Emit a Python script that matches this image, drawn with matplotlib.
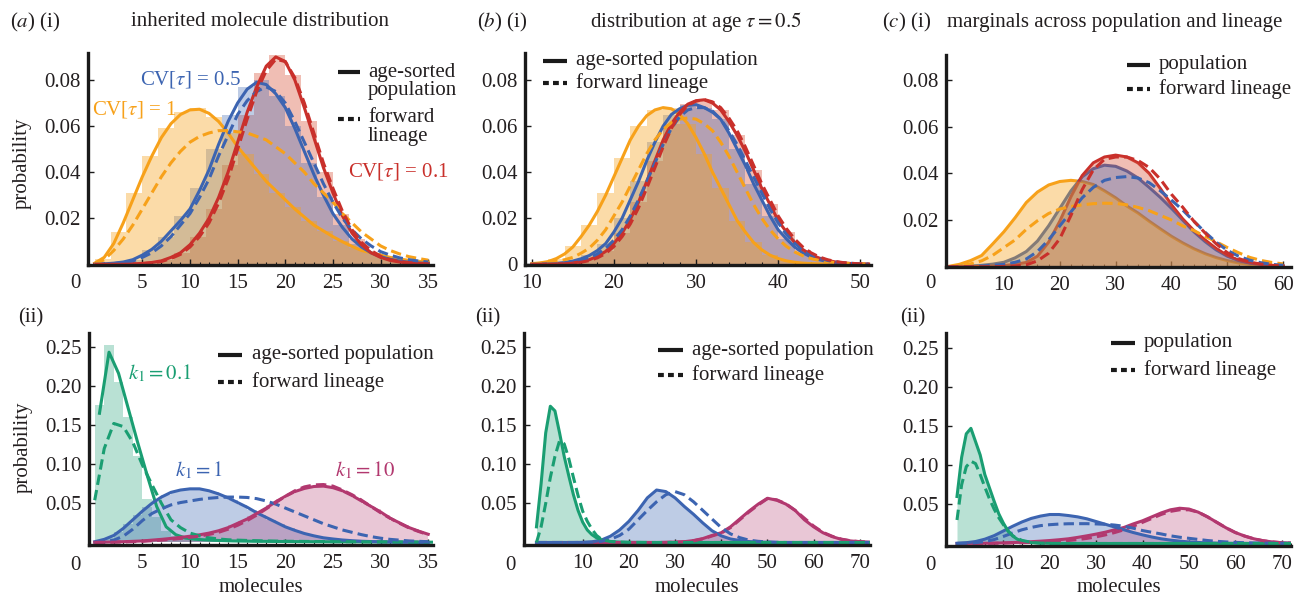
import numpy as np
import matplotlib
matplotlib.use("Agg")
import matplotlib.pyplot as plt
from matplotlib.lines import Line2D

plt.rcParams['font.family'] = ['Liberation Serif', 'DejaVu Serif']
plt.rcParams['mathtext.fontset'] = 'stix'

W, H = 1296, 598
FS = 15
TXT = '#231f20'

# ---------------- data: (a)(i) inherited molecule distribution ----------------
A1_X = list(range(0, 36))
A1_ORANGE_SOLID = [0.0005, 0.003, 0.009, 0.018, 0.028, 0.038, 0.047, 0.055, 0.061, 0.065, 0.067, 0.0673,
                   0.0655, 0.062, 0.057, 0.051, 0.046, 0.041, 0.036, 0.032, 0.028, 0.024, 0.0205, 0.017,
                   0.0145, 0.012, 0.0098, 0.0078, 0.006, 0.005, 0.004, 0.003, 0.0023, 0.0017, 0.0013, 0.001]
A1_ORANGE_DASH = [0.0, 0.002, 0.006, 0.011, 0.017, 0.024, 0.031, 0.038, 0.044, 0.049, 0.053, 0.0555,
                  0.057, 0.058, 0.058, 0.0575, 0.057, 0.0555, 0.054, 0.051, 0.048, 0.044, 0.040, 0.035,
                  0.031, 0.027, 0.022, 0.018, 0.014, 0.011, 0.008, 0.006, 0.0045, 0.0033, 0.0025, 0.0018]
A1_BLUE_SOLID = [0, 0.0002, 0.0005, 0.001, 0.002, 0.004, 0.0065, 0.010, 0.0145, 0.019, 0.024, 0.032,
                 0.041, 0.052, 0.062, 0.070, 0.076, 0.079, 0.078, 0.074, 0.068, 0.059, 0.049, 0.039,
                 0.030, 0.022, 0.016, 0.011, 0.0075, 0.005, 0.0033, 0.0022, 0.0014, 0.0009, 0.0006, 0.0004]
A1_BLUE_DASH = [0, 0.0001, 0.0003, 0.0007, 0.0014, 0.003, 0.005, 0.008, 0.012, 0.017, 0.022, 0.029,
                0.037, 0.047, 0.056, 0.065, 0.071, 0.075, 0.077, 0.075, 0.070, 0.062, 0.053, 0.044,
                0.035, 0.027, 0.020, 0.015, 0.011, 0.008, 0.0055, 0.004, 0.0028, 0.002, 0.0014, 0.001]
A1_RED_SOLID = [0, 0, 0, 0, 0.0002, 0.0004, 0.0008, 0.0015, 0.003, 0.005, 0.0085, 0.0135,
                0.020, 0.029, 0.040, 0.053, 0.066, 0.077, 0.086, 0.090, 0.088, 0.080, 0.068, 0.055,
                0.042, 0.031, 0.021, 0.0135, 0.0085, 0.005, 0.003, 0.0017, 0.001, 0.0005, 0.0003, 0.0002]
A1_RED_DASH = [0, 0, 0, 0, 0.0001, 0.0003, 0.0006, 0.0012, 0.0025, 0.0043, 0.0075, 0.012,
               0.018, 0.0265, 0.037, 0.050, 0.063, 0.075, 0.084, 0.089, 0.088, 0.081, 0.070, 0.057,
               0.044, 0.033, 0.023, 0.015, 0.0095, 0.006, 0.0035, 0.002, 0.0012, 0.0007, 0.0004, 0.0002]
A1_EDGES = np.linspace(0, 35, 22)
A1_ORANGE_HIST = [0.0025, 0.014, 0.031, 0.047, 0.059, 0.066, 0.068, 0.064, 0.057, 0.048, 0.039,
                  0.031, 0.025, 0.019, 0.0145, 0.010, 0.007, 0.005, 0.0033, 0.002, 0.0012]
A1_BLUE_HIST = [0.0001, 0.0007, 0.002, 0.006, 0.012, 0.021, 0.033, 0.050, 0.065, 0.077, 0.080,
                0.073, 0.060, 0.044, 0.029, 0.017, 0.009, 0.0048, 0.0024, 0.0012, 0.0006]
A1_RED_HIST = [0, 0, 0.0002, 0.0007, 0.002, 0.005, 0.012, 0.024, 0.043, 0.065, 0.083,
               0.091, 0.082, 0.062, 0.040, 0.022, 0.011, 0.005, 0.002, 0.0008, 0.0003]

# ---------------- data: (b)(i) distribution at age tau = 0.5 ----------------
B1_X = list(range(10, 52))
B1_ORANGE_SOLID = [0.0003, 0.0006, 0.0012, 0.0025, 0.0045, 0.0075, 0.012, 0.017, 0.023, 0.030,
                   0.038, 0.046, 0.054, 0.060, 0.0645, 0.067, 0.068, 0.0675, 0.065, 0.061,
                   0.055, 0.048, 0.040, 0.033, 0.026, 0.019, 0.014, 0.0095, 0.0063, 0.004,
                   0.0025, 0.0015, 0.0009, 0.0005, 0.0003, 0.0002, 0.0001, 0.0001, 0, 0, 0, 0]
B1_ORANGE_DASH = [0.0002, 0.0004, 0.0008, 0.0013, 0.002, 0.003, 0.0048, 0.007, 0.0105, 0.015,
                  0.021, 0.027, 0.034, 0.041, 0.048, 0.054, 0.0585, 0.0615, 0.063, 0.0635,
                  0.063, 0.061, 0.058, 0.053, 0.047, 0.040, 0.033, 0.026, 0.020, 0.015,
                  0.011, 0.0078, 0.0054, 0.0037, 0.0025, 0.0017, 0.0011, 0.0007, 0.0005, 0.0003, 0.0002, 0.0001]
B1_BLUE_SOLID = [0, 0.0001, 0.0002, 0.0004, 0.0008, 0.0014, 0.0024, 0.0038, 0.006, 0.009,
                 0.014, 0.020, 0.028, 0.036, 0.045, 0.053, 0.060, 0.065, 0.0675, 0.069,
                 0.0693, 0.068, 0.066, 0.063, 0.057, 0.050, 0.043, 0.035, 0.028, 0.021,
                 0.015, 0.011, 0.0075, 0.005, 0.0032, 0.002, 0.0012, 0.0007, 0.0004, 0.0002, 0.0001, 0]
B1_BLUE_DASH = [0, 0, 0.0001, 0.0002, 0.0005, 0.001, 0.0017, 0.0028, 0.0045, 0.007,
                0.0105, 0.015, 0.021, 0.028, 0.036, 0.044, 0.052, 0.059, 0.064, 0.067,
                0.068, 0.068, 0.0665, 0.063, 0.058, 0.052, 0.045, 0.038, 0.031, 0.024,
                0.018, 0.013, 0.0092, 0.0063, 0.0042, 0.0027, 0.0017, 0.001, 0.0006, 0.0004, 0.0002, 0.0001]
B1_RED_SOLID = [0, 0, 0.0001, 0.0002, 0.0003, 0.0006, 0.0011, 0.002, 0.0034, 0.0056,
                0.009, 0.0135, 0.0195, 0.027, 0.036, 0.045, 0.054, 0.061, 0.066, 0.0695,
                0.071, 0.0714, 0.070, 0.067, 0.062, 0.056, 0.049, 0.041, 0.033, 0.026,
                0.019, 0.014, 0.0095, 0.0064, 0.0042, 0.0027, 0.0017, 0.001, 0.0006, 0.0003, 0.0002, 0.0001]
B1_RED_DASH = [0, 0, 0, 0.0001, 0.0002, 0.0005, 0.0009, 0.0016, 0.0028, 0.0047,
               0.0077, 0.012, 0.0175, 0.0245, 0.033, 0.042, 0.051, 0.059, 0.065, 0.069,
               0.0708, 0.0715, 0.0705, 0.068, 0.0635, 0.058, 0.051, 0.043, 0.035, 0.028,
               0.021, 0.0155, 0.011, 0.0075, 0.005, 0.0032, 0.002, 0.0012, 0.0007, 0.0004, 0.0002, 0.0001]
B1_EDGES = np.linspace(10, 52, 22)
B1_ORANGE_HIST = [0.0005, 0.0025, 0.008, 0.017, 0.031, 0.046, 0.060, 0.067, 0.068, 0.061, 0.048,
                  0.033, 0.019, 0.0095, 0.004, 0.0015, 0.0005, 0.0002, 0.0001, 0, 0]
B1_BLUE_HIST = [0, 0.0003, 0.0014, 0.004, 0.009, 0.020, 0.036, 0.053, 0.065, 0.069, 0.068,
                0.063, 0.050, 0.035, 0.021, 0.011, 0.005, 0.002, 0.0007, 0.0002, 0]
B1_RED_HIST = [0, 0.0001, 0.0006, 0.002, 0.0056, 0.0135, 0.027, 0.045, 0.061, 0.0695, 0.0714,
               0.067, 0.056, 0.041, 0.026, 0.014, 0.0064, 0.0027, 0.001, 0.0003, 0.0001]

# ---------------- data: (c)(i) marginals ----------------
C1_X = list(range(0, 61, 2))
C1_ORANGE_SOLID = [0.0001, 0.001, 0.0026, 0.0048, 0.0098, 0.015, 0.021, 0.0275, 0.032, 0.035, 0.0365,
                   0.037, 0.0365, 0.0352, 0.0325, 0.0295, 0.026, 0.023, 0.0195, 0.0162, 0.013,
                   0.0102, 0.0077, 0.0056, 0.0039, 0.0026, 0.0016, 0.001, 0.0006, 0.0004, 0.0002]
C1_ORANGE_DASH = [0, 0.0003, 0.0012, 0.0025, 0.0049, 0.0082, 0.0115, 0.016, 0.0197, 0.0228, 0.0247,
                  0.0258, 0.0265, 0.027, 0.0272, 0.0271, 0.0265, 0.0254, 0.024, 0.022, 0.020,
                  0.0175, 0.0155, 0.013, 0.0107, 0.0082, 0.006, 0.004, 0.0027, 0.0018, 0.0012]
C1_BLUE_SOLID = [0, 0.0001, 0.0003, 0.0006, 0.0011, 0.0019, 0.0038, 0.0065, 0.011, 0.0175, 0.025,
                 0.0325, 0.0385, 0.042, 0.0435, 0.043, 0.041, 0.038, 0.034, 0.0297, 0.025,
                 0.020, 0.015, 0.0108, 0.0072, 0.0045, 0.0027, 0.0016, 0.0009, 0.0005, 0.0003]
C1_BLUE_DASH = [0, 0, 0.0001, 0.0003, 0.0006, 0.001, 0.0019, 0.0033, 0.0065, 0.0115, 0.0175,
                0.0235, 0.0295, 0.034, 0.037, 0.0382, 0.0386, 0.038, 0.036, 0.0325, 0.0285,
                0.0243, 0.0195, 0.0148, 0.0105, 0.007, 0.0045, 0.0028, 0.0017, 0.001, 0.0006]
C1_RED_SOLID = [0, 0, 0, 0.0001, 0.0002, 0.0005, 0.001, 0.0018, 0.0045, 0.0105, 0.0195,
                0.030, 0.039, 0.0445, 0.047, 0.0478, 0.047, 0.0445, 0.040, 0.0335, 0.0265,
                0.0205, 0.0155, 0.0115, 0.0078, 0.0048, 0.0028, 0.0016, 0.0009, 0.0005, 0.0003]
C1_RED_DASH = [0, 0, 0, 0, 0, 0.0001, 0.0003, 0.0008, 0.0025, 0.0058, 0.012,
               0.022, 0.033, 0.0415, 0.046, 0.047, 0.047, 0.0455, 0.0425, 0.0375, 0.031,
               0.0255, 0.0195, 0.0145, 0.0098, 0.006, 0.0035, 0.002, 0.0011, 0.0006, 0.0003]

# ---------------- data: (a)(ii) ----------------
A2_X = list(range(0, 36))
A2_XMID = [x + 0.5 for x in range(0, 36)]
A2_EDGES = list(range(0, 36))
A2_GREEN_SOLID = [0.165, 0.243, 0.216, 0.172, 0.128, 0.086, 0.046, 0.020, 0.010, 0.0058, 0.0042, 0.0034,
                  0.0028, 0.0024, 0.002, 0.0018, 0.0016, 0.0015, 0.0014, 0.0013, 0.0012, 0.0011, 0.001,
                  0.001, 0.0009, 0.0009, 0.0008, 0.0008, 0.0007, 0.0007, 0.0006, 0.0006, 0.0005, 0.0005,
                  0.0004, 0.0004]
A2_GREEN_DASH = [0.054, 0.12, 0.152, 0.148, 0.128, 0.099, 0.074, 0.050, 0.029, 0.019, 0.012, 0.0085,
                 0.006, 0.0045, 0.0035, 0.003, 0.0026, 0.0023, 0.002, 0.0018, 0.0016, 0.0015, 0.0014,
                 0.0013, 0.0012, 0.0011, 0.001, 0.001, 0.0009, 0.0008, 0.0008, 0.0007, 0.0006, 0.0006,
                 0.0005, 0.0005]
A2_GREEN_HIST = [0.175, 0.252, 0.205, 0.160, 0.110, 0.055, 0.032, 0.015, 0.008, 0.005, 0.004, 0.003,
                 0.0025, 0.002, 0.002, 0.0015, 0.0015, 0.001, 0.001, 0.001, 0.001, 0.001, 0.0008,
                 0.0008, 0.0008, 0.0007, 0.0007, 0.0006, 0.0006, 0.0005, 0.0005, 0.0005, 0.0004,
                 0.0004, 0.0004]
A2_BLUE_SOLID = [0.001, 0.004, 0.009, 0.018, 0.029, 0.040, 0.050, 0.058, 0.064, 0.067, 0.0685, 0.0685,
                 0.066, 0.062, 0.057, 0.051, 0.045, 0.038, 0.032, 0.026, 0.020, 0.0155, 0.0115, 0.0085,
                 0.006, 0.0045, 0.0032, 0.0023, 0.0016, 0.0012, 0.0008, 0.0006, 0.0004, 0.0003, 0.0002,
                 0.0001]
A2_BLUE_DASH = [0, 0.001, 0.003, 0.008, 0.017, 0.028, 0.037, 0.043, 0.048, 0.051, 0.053, 0.055,
                0.0565, 0.0575, 0.058, 0.058, 0.0575, 0.056, 0.053, 0.049, 0.044, 0.039, 0.034, 0.029,
                0.024, 0.020, 0.016, 0.013, 0.010, 0.0075, 0.0055, 0.004, 0.003, 0.002, 0.0015, 0.001]
A2_BLUE_HIST = [0.002, 0.006, 0.013, 0.023, 0.035, 0.045, 0.054, 0.061, 0.066, 0.068, 0.069, 0.067,
                0.064, 0.060, 0.054, 0.048, 0.041, 0.035, 0.029, 0.023, 0.018, 0.0135, 0.010, 0.007,
                0.005, 0.0038, 0.0027, 0.002, 0.0014, 0.001, 0.0007, 0.0005, 0.0003, 0.0002, 0.0001]
A2_MAG_SOLID = [0.0002, 0.0004, 0.0007, 0.001, 0.0015, 0.002, 0.003, 0.004, 0.0052, 0.0065, 0.008,
                0.0098, 0.012, 0.015, 0.019, 0.0245, 0.030, 0.037, 0.044, 0.052, 0.059, 0.065, 0.069,
                0.0715, 0.072, 0.070, 0.066, 0.060, 0.053, 0.046, 0.039, 0.031, 0.025, 0.019, 0.0145,
                0.0105]
A2_MAG_DASH = [0, 0.0002, 0.0004, 0.0007, 0.001, 0.0015, 0.0022, 0.003, 0.004, 0.0052, 0.0066,
               0.0082, 0.0103, 0.013, 0.017, 0.022, 0.028, 0.035, 0.043, 0.051, 0.059, 0.066, 0.071,
               0.0735, 0.074, 0.072, 0.067, 0.061, 0.054, 0.046, 0.038, 0.031, 0.0245, 0.0185, 0.014,
               0.010]
A2_MAG_HIST = [0.0003, 0.0005, 0.0008, 0.0012, 0.0017, 0.0025, 0.0035, 0.0046, 0.0058, 0.0072, 0.009,
               0.011, 0.0135, 0.017, 0.022, 0.027, 0.0335, 0.0405, 0.048, 0.0555, 0.062, 0.067, 0.0705,
               0.072, 0.071, 0.068, 0.063, 0.0565, 0.0495, 0.0425, 0.035, 0.028, 0.022, 0.0168, 0.0125]

# ---------------- data: (b)(ii) ----------------
B2_GREEN_X = [0, 1, 2, 3, 4, 5, 6, 7, 8, 9, 10, 11, 12, 13, 14, 15, 16, 18, 20, 25, 30, 40, 50, 60, 72]
B2_GREEN_SOLID = [0.02, 0.075, 0.14, 0.174, 0.168, 0.14, 0.11, 0.085, 0.061, 0.041, 0.026, 0.016, 0.010,
                  0.006, 0.0035, 0.002, 0.0012, 0.0005, 0.0002, 0, 0, 0, 0, 0, 0]
B2_GREEN_DASH = [0, 0.02, 0.05, 0.083, 0.11, 0.13, 0.126, 0.107, 0.083, 0.060, 0.040, 0.027, 0.017,
                 0.009, 0.0045, 0.0025, 0.0013, 0.0005, 0.0002, 0, 0, 0, 0, 0, 0]
B2_X = list(range(0, 73, 2))
B2_BLUE_SOLID = [0, 0, 0, 0, 0, 0.0002, 0.0008, 0.003, 0.008, 0.016, 0.027, 0.041, 0.057, 0.067, 0.065,
                 0.057, 0.046, 0.036, 0.025, 0.015, 0.0085, 0.0045, 0.0025, 0.0012, 0.0006, 0.0003,
                 0, 0, 0, 0, 0, 0, 0, 0, 0, 0, 0]
B2_BLUE_DASH = [0, 0, 0, 0, 0, 0, 0.0004, 0.0015, 0.004, 0.009, 0.017, 0.029, 0.041, 0.052, 0.061,
                0.065, 0.061, 0.052, 0.041, 0.030, 0.019, 0.011, 0.0062, 0.003, 0.0015, 0.0007, 0.0003,
                0, 0, 0, 0, 0, 0, 0, 0, 0, 0]
B2_MAG_SOLID = [0, 0, 0, 0, 0, 0, 0, 0, 0, 0, 0, 0, 0, 0, 0.0002, 0.0005, 0.001, 0.0025, 0.005, 0.009,
                0.0125, 0.020, 0.030, 0.040, 0.049, 0.0565, 0.054, 0.049, 0.041, 0.029, 0.020, 0.0125,
                0.0075, 0.004, 0.002, 0.001, 0.0005]
B2_MAG_DASH = [0, 0, 0, 0, 0, 0, 0, 0, 0, 0, 0, 0, 0, 0, 0.0001, 0.0004, 0.0009, 0.0022, 0.0045, 0.0083,
               0.012, 0.019, 0.029, 0.039, 0.048, 0.056, 0.0545, 0.0495, 0.041, 0.031, 0.021, 0.013,
               0.008, 0.0043, 0.0022, 0.0011, 0.0005]

# ---------------- data: (c)(ii) ----------------
C2_GREEN_X = [0, 1, 2, 3, 4, 5, 6, 7, 8, 9, 10, 11, 12, 13, 14, 16, 18, 20, 25, 30, 40, 50, 60, 72]
C2_GREEN_SOLID = [0.06, 0.11, 0.14, 0.147, 0.13, 0.113, 0.088, 0.071, 0.054, 0.038, 0.026, 0.016, 0.0096,
                  0.0055, 0.0032, 0.001, 0.0004, 0.0002, 0, 0, 0, 0, 0, 0]
C2_GREEN_DASH = [0.03, 0.075, 0.098, 0.105, 0.102, 0.088, 0.072, 0.057, 0.044, 0.033, 0.024, 0.016, 0.010,
                 0.0066, 0.004, 0.0015, 0.0005, 0.0002, 0, 0, 0, 0, 0, 0]
C2_X = list(range(0, 73, 2))
C2_BLUE_SOLID = [0.0003, 0.001, 0.0025, 0.0055, 0.010, 0.016, 0.022, 0.0275, 0.032, 0.035, 0.037, 0.037,
                 0.0357, 0.034, 0.0315, 0.028, 0.0245, 0.021, 0.0175, 0.014, 0.011, 0.0083, 0.006, 0.0043,
                 0.003, 0.002, 0.0013, 0.0008, 0.0005, 0.0003, 0.0002, 0.0001, 0.0001, 0.0001, 0.0001,
                 0.0001, 0.0001]
C2_BLUE_DASH = [0, 0.0003, 0.001, 0.0025, 0.005, 0.009, 0.0135, 0.0175, 0.0205, 0.0228, 0.024, 0.0248,
                0.0252, 0.0253, 0.0253, 0.025, 0.0245, 0.0235, 0.022, 0.0195, 0.0165, 0.0143, 0.0122,
                0.0098, 0.008, 0.0066, 0.0052, 0.0038, 0.0028, 0.002, 0.0014, 0.001, 0.0007, 0.0005,
                0.0003, 0.0002, 0.0001]
C2_MAG_SOLID = [0, 0.0001, 0.0002, 0.0003, 0.0005, 0.0008, 0.0012, 0.0017, 0.0023, 0.003, 0.0038, 0.0048,
                0.006, 0.0078, 0.0098, 0.012, 0.0145, 0.0175, 0.0205, 0.025, 0.029, 0.034, 0.039, 0.043,
                0.045, 0.044, 0.040, 0.034, 0.027, 0.020, 0.014, 0.0095, 0.006, 0.0035, 0.002, 0.001,
                0.0005]
C2_MAG_DASH = [0, 0, 0.0001, 0.0002, 0.0003, 0.0005, 0.0008, 0.001, 0.0013, 0.0016, 0.002, 0.0028,
               0.0038, 0.005, 0.0065, 0.0085, 0.011, 0.014, 0.0175, 0.022, 0.027, 0.032, 0.037, 0.041,
               0.043, 0.043, 0.040, 0.034, 0.027, 0.020, 0.014, 0.0095, 0.006, 0.0035, 0.002, 0.001,
               0.0005]

# ---------------- styling ----------------
ORANGE = '#F7A11A'
BLUE = '#3C64B1'
RED = '#C9302B'
RED_FILL = '#D9553A'
GREEN = '#1A9E72'
MAG = '#B2386F'
A_OR, A_BL, A_RD, A_GR, A_MG = 0.38, 0.33, 0.38, 0.30, 0.28
LW = 2.2
DASH = (3.4, 1.7)

fig = plt.figure(figsize=(W / 100, H / 100), dpi=100)


def px_axes(l, r, t, b):
    return fig.add_axes([l / W, 1 - b / H, (r - l) / W, (b - t) / H])


def ftext(x, y, s, **kw):
    kw.setdefault('fontsize', FS)
    kw.setdefault('color', TXT)
    kw.setdefault('va', 'center')
    kw.setdefault('ha', 'left')
    fig.text(x / W, 1 - y / H, s, **kw)


def legend_line(x1, x2, y, dashed):
    ln = Line2D([x1 / W, x2 / W], [1 - y / H, 1 - y / H], transform=fig.transFigure,
                color='#1a1a1a', lw=3.0, solid_capstyle='butt', dash_capstyle='butt')
    if dashed:
        ln.set_dashes((1.4, 1.0))
    fig.add_artist(ln)


def style(ax, xlim, ylim, xticks, yticks, ylabels, xminor):
    ax.set_xlim(*xlim)
    ax.set_ylim(*ylim)
    ax.patch.set_alpha(0)
    for s in ['top', 'right']:
        ax.spines[s].set_visible(False)
    for s in ['left', 'bottom']:
        ax.spines[s].set_linewidth(2.4)
        ax.spines[s].set_color('#1a1a1a')
        ax.spines[s].set_zorder(10)
    ax.set_xticks(xticks)
    ax.set_xticklabels([str(t) for t in xticks])
    ax.set_xticks(xminor, minor=True)
    ax.set_yticks(yticks)
    ax.set_yticklabels(ylabels)
    ax.tick_params(which='major', direction='in', length=4, width=1.0, labelsize=FS,
                   colors='#1a1a1a', labelcolor=TXT)
    ax.tick_params(axis='x', which='major', pad=6.5)
    ax.tick_params(axis='y', which='major', pad=5)
    ax.tick_params(which='minor', direction='in', length=2, width=0.8, colors='#1a1a1a')


def solid(ax, x, y, c, z=5):
    ax.plot(x, y, color=c, lw=LW, solid_joinstyle='round', zorder=z)


def dashed(ax, x, y, c, z=6):
    ax.plot(x, y, color=c, lw=LW, dashes=DASH, zorder=z)


# ---------------- (a)(i) ----------------
ax = px_axes(88, 433, 53, 265)
ax.stairs(A1_RED_HIST, A1_EDGES, fill=True, color=RED_FILL, alpha=A_RD, lw=0)
ax.stairs(A1_BLUE_HIST, A1_EDGES, fill=True, color=BLUE, alpha=A_BL, lw=0)
ax.stairs(A1_ORANGE_HIST, A1_EDGES, fill=True, color=ORANGE, alpha=A_OR, lw=0)
solid(ax, A1_X, A1_ORANGE_SOLID, ORANGE)
dashed(ax, A1_X, A1_ORANGE_DASH, ORANGE)
solid(ax, A1_X, A1_BLUE_SOLID, BLUE)
dashed(ax, A1_X, A1_BLUE_DASH, BLUE)
solid(ax, A1_X, A1_RED_SOLID, RED)
dashed(ax, A1_X, A1_RED_DASH, RED)
style(ax, (-0.7, 35.5), (-0.0003, 0.0917), [5, 10, 15, 20, 25, 30, 35],
      [0.02, 0.04, 0.06, 0.08], ['0.02', '0.04', '0.06', '0.08'], list(range(1, 36)))

# ---------------- (b)(i) ----------------
ax = px_axes(525, 871, 53, 265)
ax.stairs(B1_RED_HIST, B1_EDGES, fill=True, color=RED_FILL, alpha=A_RD, lw=0)
ax.stairs(B1_BLUE_HIST, B1_EDGES, fill=True, color=BLUE, alpha=A_BL, lw=0)
ax.stairs(B1_ORANGE_HIST, B1_EDGES, fill=True, color=ORANGE, alpha=A_OR, lw=0)
solid(ax, B1_X, B1_ORANGE_SOLID, ORANGE)
dashed(ax, B1_X, B1_ORANGE_DASH, ORANGE)
solid(ax, B1_X, B1_BLUE_SOLID, BLUE)
dashed(ax, B1_X, B1_BLUE_DASH, BLUE)
solid(ax, B1_X, B1_RED_SOLID, RED)
dashed(ax, B1_X, B1_RED_DASH, RED)
style(ax, (9.18, 51.3), (-0.0003, 0.0917), [10, 20, 30, 40, 50],
      [0, 0.02, 0.04, 0.06, 0.08], ['0', '0.02', '0.04', '0.06', '0.08'], list(range(12, 52, 2)))

# ---------------- (c)(i) ----------------
ax = px_axes(946, 1291, 55, 267)
solid(ax, C1_X, C1_ORANGE_SOLID, ORANGE, z=2)
solid(ax, C1_X, C1_BLUE_SOLID, BLUE, z=2)
solid(ax, C1_X, C1_RED_SOLID, RED, z=2)
ax.fill_between(C1_X, 0, C1_RED_SOLID, color=RED_FILL, alpha=A_RD, lw=0, zorder=3)
ax.fill_between(C1_X, 0, C1_BLUE_SOLID, color=BLUE, alpha=A_BL, lw=0, zorder=3)
ax.fill_between(C1_X, 0, C1_ORANGE_SOLID, color=ORANGE, alpha=A_OR, lw=0, zorder=3)
dashed(ax, C1_X, C1_ORANGE_DASH, ORANGE)
dashed(ax, C1_X, C1_BLUE_DASH, BLUE)
dashed(ax, C1_X, C1_RED_DASH, RED)
style(ax, (-0.38, 61.4), (-0.00013, 0.0907), [10, 20, 30, 40, 50, 60],
      [0.02, 0.04, 0.06, 0.08], ['0.02', '0.04', '0.06', '0.08'], list(range(2, 62, 2)))

# ---------------- (a)(ii) ----------------
ax = px_axes(89, 433, 333, 545)
ax.stairs(A2_GREEN_HIST, A2_EDGES, fill=True, color=GREEN, alpha=A_GR, lw=0)
ax.stairs(A2_BLUE_HIST, A2_EDGES, fill=True, color=BLUE, alpha=A_BL, lw=0)
ax.stairs(A2_MAG_HIST, A2_EDGES, fill=True, color=MAG, alpha=A_MG, lw=0)
solid(ax, A2_XMID, A2_GREEN_SOLID, GREEN)
dashed(ax, A2_X, A2_GREEN_DASH, GREEN)
solid(ax, A2_X, A2_BLUE_SOLID, BLUE)
dashed(ax, A2_X, A2_BLUE_DASH, BLUE)
solid(ax, A2_X, A2_MAG_SOLID, MAG)
dashed(ax, A2_X, A2_MAG_DASH, MAG)
style(ax, (-0.6, 35.5), (-0.0032, 0.2675), [5, 10, 15, 20, 25, 30, 35],
      [0.05, 0.10, 0.15, 0.20, 0.25], ['0.05', '0.10', '0.15', '0.20', '0.25'], list(range(1, 36)))

# ---------------- (b)(ii) ----------------
ax = px_axes(524, 870, 333, 545)
ax.fill_between(B2_GREEN_X, 0, B2_GREEN_SOLID, color=GREEN, alpha=A_GR, lw=0)
ax.fill_between(B2_X, 0, B2_BLUE_SOLID, color=BLUE, alpha=A_BL, lw=0)
ax.fill_between(B2_X, 0, B2_MAG_SOLID, color=MAG, alpha=A_MG, lw=0)
solid(ax, B2_X, B2_MAG_SOLID, MAG)
dashed(ax, B2_X, B2_MAG_DASH, MAG)
solid(ax, B2_X, B2_BLUE_SOLID, BLUE)
dashed(ax, B2_X, B2_BLUE_DASH, BLUE)
solid(ax, B2_GREEN_X, B2_GREEN_SOLID, GREEN)
dashed(ax, B2_GREEN_X, B2_GREEN_DASH, GREEN)
style(ax, (-2.7, 72.2), (-0.0032, 0.2675), [10, 20, 30, 40, 50, 60, 70],
      [0.05, 0.10, 0.15, 0.20, 0.25], ['0.05', '0.10', '0.15', '0.20', '0.25'],
      list(range(0, 73, 2)))

# ---------------- (c)(ii) ----------------
ax = px_axes(946, 1291, 333, 546)
ax.fill_between(C2_GREEN_X, 0, C2_GREEN_SOLID, color=GREEN, alpha=A_GR, lw=0)
ax.fill_between(C2_X, 0, C2_BLUE_SOLID, color=BLUE, alpha=A_BL, lw=0)
ax.fill_between(C2_X, 0, C2_MAG_SOLID, color=MAG, alpha=A_MG, lw=0)
solid(ax, C2_X, C2_MAG_SOLID, MAG)
dashed(ax, C2_X, C2_MAG_DASH, MAG)
solid(ax, C2_X, C2_BLUE_SOLID, BLUE)
dashed(ax, C2_X, C2_BLUE_DASH, BLUE)
solid(ax, C2_GREEN_X, C2_GREEN_SOLID, GREEN)
dashed(ax, C2_GREEN_X, C2_GREEN_DASH, GREEN)
style(ax, (-2.37, 72.0), (-0.0032, 0.2687), [10, 20, 30, 40, 50, 60, 70],
      [0.05, 0.10, 0.15, 0.20, 0.25], ['0.05', '0.10', '0.15', '0.20', '0.25'],
      list(range(0, 73, 2)))

# ---------------- origin "0" labels ----------------
for (x, y) in [(75, 283), (930, 283), (75, 565), (510, 565), (930, 565)]:
    ftext(x, y, '0', ha='center')

# ---------------- titles / panel labels ----------------
ftext(10, 22, '($a$) (i)')
ftext(260, 22, 'inherited molecule distribution', ha='center')
ftext(477, 22, '($b$) (i)')
ftext(696, 22, r'distribution at age $\tau = 0.5$', ha='center')
ftext(882, 22, '($c$) (i)')
ftext(947, 22, 'marginals across population and lineage')
ftext(18, 318, '(ii)')
ftext(475, 318, '(ii)')
ftext(900, 318, '(ii)')

ftext(22, 163, 'probability', rotation=90, ha='center')
ftext(23, 447, 'probability', rotation=90, ha='center')
for xc in (261, 697, 1119):
    ftext(xc, 587, 'molecules', ha='center')

# ---------------- annotations ----------------
ftext(140, 80, r'CV[$\tau$] = 0.5', color=BLUE)
ftext(92, 110, r'CV[$\tau$] = 1', color=ORANGE)
ftext(348, 172, r'CV[$\tau$] = 0.1', color=RED)
ftext(128, 373, r'$k_1 = 0.1$', color=GREEN)
ftext(175, 470, r'$k_1 = 1$', color=BLUE)
ftext(335, 470, r'$k_1 = 10$', color=MAG)

# ---------------- legends ----------------
legend_line(338, 360, 72, False)
ftext(368, 72, 'age-sorted')
ftext(368, 90, 'population')
legend_line(338, 360, 119, True)
ftext(368, 118, 'forward')
ftext(368, 137, 'lineage')

legend_line(543, 567, 61, False)
ftext(576, 61, 'age-sorted population')
legend_line(543, 567, 83, True)
ftext(576, 83, 'forward lineage')

legend_line(1127, 1150, 65, False)
ftext(1159, 65, 'population')
legend_line(1127, 1150, 89, True)
ftext(1159, 89, 'forward lineage')

legend_line(218, 242, 355, False)
ftext(252, 355, 'age-sorted population')
legend_line(218, 242, 382, True)
ftext(252, 382, 'forward lineage')

legend_line(658, 683, 350, False)
ftext(692, 350, 'age-sorted population')
legend_line(658, 683, 375, True)
ftext(692, 375, 'forward lineage')

legend_line(1111, 1135, 343, False)
ftext(1144, 343, 'population')
legend_line(1111, 1135, 370, True)
ftext(1144, 370, 'forward lineage')

fig.savefig('out.png', dpi=100)
